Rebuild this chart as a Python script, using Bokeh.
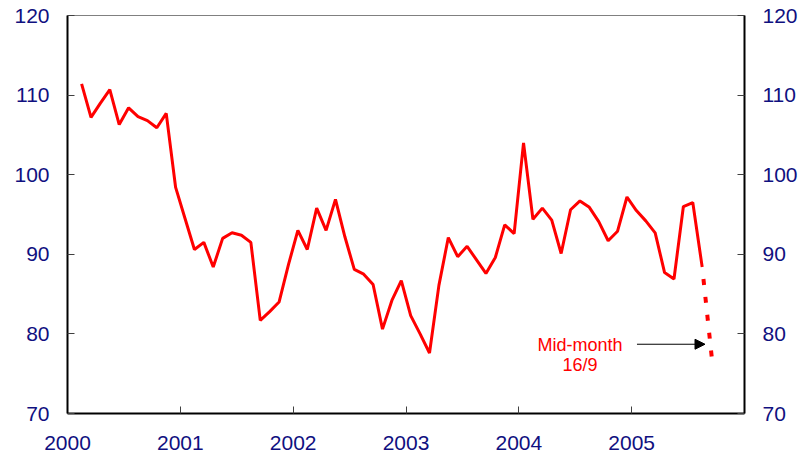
from bokeh.plotting import figure
from bokeh.models import LinearAxis, FixedTicker, Arrow, NormalHead, ColumnDataSource
from bokeh.core.properties import value
from bokeh.embed import file_html
from bokeh.resources import INLINE

# Monthly index values, Feb 2000 .. Aug 2005 (plotted mid-month)
start_year = 2000
start_month = 2
values = [111.4, 107.2, 109.0, 110.7, 106.3, 108.4, 107.3, 106.8, 105.9, 107.7, 98.4,
          94.5, 90.6, 91.5, 88.4, 92.0, 92.7, 92.4, 91.5, 81.7, 82.8, 84.0, 88.7,
          93.0, 90.6, 95.8, 93.0, 96.9, 92.2, 88.1, 87.5, 86.2, 80.6, 84.2, 86.7,
          82.3, 80.0, 77.6, 86.1, 92.1, 89.7, 91.0, 89.3, 87.6, 89.6, 93.7, 92.6,
          104.0, 94.4, 95.8, 94.3, 90.1, 95.6, 96.7, 95.9, 94.1, 91.7, 92.9, 97.2,
          95.5, 94.2, 92.7, 87.7, 86.9, 96.0, 96.5, 88.4]
# Mid-month estimate, 16 September 2005
mid_month_date = (2005, 9, 16)
mid_month_value = 76.9

year_ticks = [2000, 2001, 2002, 2003, 2004, 2005]
y_ticks = [70, 80, 90, 100, 110, 120]

def month_pos(i):
    m = start_month - 1 + i
    return start_year + (m + 0.5) / 12.0

xs = [month_pos(i) for i in range(len(values))]
mm_x = mid_month_date[0] + (mid_month_date[1] - 1 + mid_month_date[2] / 30.0) / 12.0

NAVY = "#10107F"
FONT = "Liberation Sans"

p = figure(width=808, height=462, x_range=(2000, 2006), y_range=(70, 120),
           output_backend="svg", toolbar_location=None,
           min_border_left=67, min_border_right=64, min_border_top=15, min_border_bottom=49)
p.grid.visible = False
p.outline_line_color = "#808080"
p.outline_line_width = 1
p.background_fill_color = "white"
p.border_fill_color = "white"

right = LinearAxis()
p.add_layout(right, "right")

for ax in p.yaxis:
    ax.ticker = FixedTicker(ticks=y_ticks)
for ax in p.xaxis:
    ax.ticker = FixedTicker(ticks=year_ticks)
    ax.major_label_overrides = {y: str(y) for y in year_ticks}

for ax in list(p.xaxis) + list(p.yaxis):
    ax.axis_line_color = "black"
    ax.axis_line_width = 2
    ax.major_tick_in = 7
    ax.major_tick_out = 0
    ax.major_tick_line_color = "#404040"
    ax.major_tick_line_width = 1
    ax.minor_tick_line_color = None
    ax.major_label_text_color = NAVY
    ax.major_label_text_font = FONT
    ax.major_label_text_font_size = "21px"
    ax.major_label_standoff = 18

p.xaxis.major_label_standoff = 22

src = ColumnDataSource(dict(x=xs, y=values))
p.line("x", "y", source=src, line_color="#FF0000", line_width=3)

p.line([xs[-1], mm_x], [values[-1], mid_month_value], line_color="#FF0000",
       line_width=4, line_dash="6 12", line_dash_offset=6)

p.text(x=[2004.542], y=[78.64], text=["Mid-month"], text_color="#FF0000",
       text_font=value(FONT), text_font_size="18px", text_align="center",
       text_baseline="middle")
p.text(x=[2004.542], y=[76.05], text=["16/9"], text_color="#FF0000",
       text_font=value(FONT), text_font_size="18px", text_align="center",
       text_baseline="middle")

p.add_layout(Arrow(end=NormalHead(size=10, fill_color="black", line_color="black"),
                   x_start=2005.047, y_start=78.7, x_end=2005.65, y_end=78.7,
                   line_color="black", line_width=1))

open("out.html", "w").write(file_html(p, INLINE))
